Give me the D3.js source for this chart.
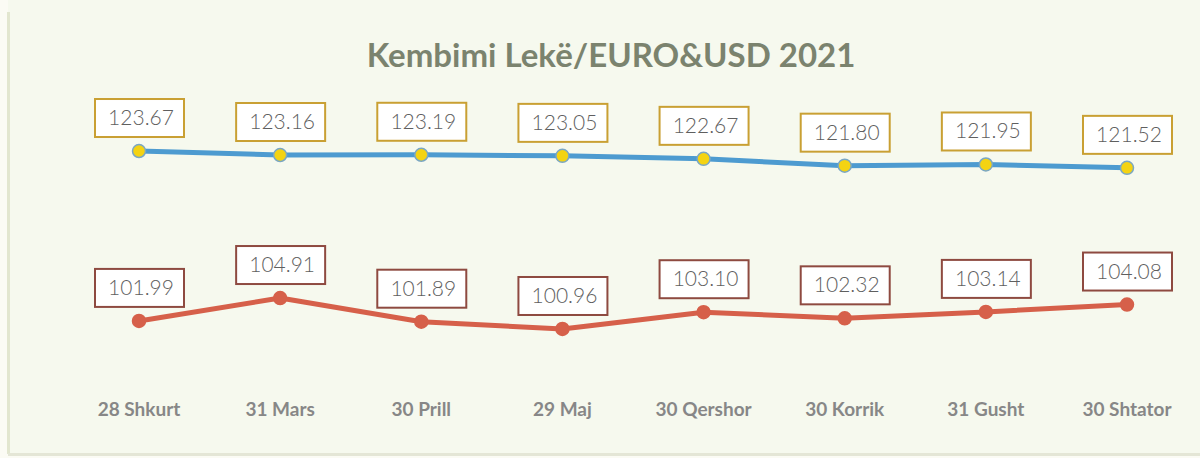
<!DOCTYPE html>
<html>
<head>
<meta charset="utf-8">
<script src="https://cdn.jsdelivr.net/npm/d3@7"></script>
<style>
  html, body { margin: 0; padding: 0; background: #fbfbf4; }
  svg { display: block; }
</style>
</head>
<body>
<div id="chart"></div>
<script>
    // tick labels
    let dates = ["28 Shkurt", "31 Mars", "30 Prill", "29 Maj", "30 Qershor", "30 Korrik", "31 Gusht", "30 Shtator"]

    // series values
    let euro = [123.67, 123.16, 123.19, 123.05, 122.67, 121.80, 121.95, 121.52]
    let usd = [101.99, 104.91, 101.89, 100.96, 103.10, 102.32, 103.14, 104.08]

    let width = 1200
    let height = 458

    let svg = d3.select("#chart")
        .append("svg")
        .attr("width", width)
        .attr("height", height)

    // card background
    svg.append("rect")
        .attr("x", 8)
        .attr("y", 0)
        .attr("width", width - 8)
        .attr("height", 454)
        .attr("fill", "#f6f9ee")
    svg.append("line")
        .attr("x1", 8.5).attr("x2", 8.5)
        .attr("y1", 12).attr("y2", 454)
        .attr("stroke", "#e2e6cf").attr("stroke-width", 3)
    svg.append("line")
        .attr("x1", 8).attr("x2", width)
        .attr("y1", 454.5).attr("y2", 454.5)
        .attr("stroke", "#e4e6d6").attr("stroke-width", 3)

    let xScale = d3.scalePoint()
        .domain(dates)
        .range([139, 1127])

    let yScale = d3.scaleLinear()
        .domain([95, 130])
        .range([375.7, 101.4])

    svg.append("text")
        .attr("x", 611)
        .attr("y", 67)
        .attr("text-anchor", "middle")
        .attr("font-family", "Lato, 'Open Sans', sans-serif")
        .attr("font-weight", "bold")
        .attr("font-size", 33)
        .attr("fill", "#7b836e")
        .text("Kembimi Lekë/EURO&USD 2021")

    // category labels
    svg.append("g")
        .selectAll("text")
        .data(dates)
        .enter()
        .append("text")
        .attr("x", d => xScale(d))
        .attr("y", 416)
        .attr("text-anchor", "middle")
        .attr("font-family", "Lato, 'Open Sans', sans-serif")
        .attr("font-weight", "bold")
        .attr("font-size", 19)
        .attr("fill", "#878787")
        .text(d => d)

    let line = d3.line()
        .x((d, i) => xScale(dates[i]))
        .y(d => yScale(d))

    function drawSeries(values, lineColor, dotFill, dotStroke, boxStroke) {
        let g = svg.append("g")

        g.append("path")
            .datum(values)
            .attr("d", line)
            .attr("fill", "none")
            .attr("stroke", lineColor)
            .attr("stroke-width", 5)
            .attr("stroke-linejoin", "round")

        g.selectAll("circle")
            .data(values)
            .enter()
            .append("circle")
            .attr("cx", (d, i) => xScale(dates[i]))
            .attr("cy", d => yScale(d))
            .attr("r", 6.5)
            .attr("fill", dotFill)
            .attr("stroke", dotStroke)
            .attr("stroke-width", 1.5)

        let labels = g.selectAll("g.label")
            .data(values)
            .enter()
            .append("g")
            .attr("class", "label")
            .attr("transform", (d, i) => `translate(${xScale(dates[i])},${yScale(d) - 14})`)

        labels.append("rect")
            .attr("x", -44)
            .attr("y", -38)
            .attr("width", 89)
            .attr("height", 38)
            .attr("fill", "#ffffff")
            .attr("stroke", boxStroke)
            .attr("stroke-width", 2)

        labels.append("text")
            .attr("x", 2)
            .attr("y", -12)
            .attr("text-anchor", "middle")
            .attr("font-family", "Lato, 'Open Sans', sans-serif")
            .attr("font-weight", 300)
            .attr("font-size", 21)
            .attr("fill", "#5f5f5f")
            .text(d => d.toFixed(2))
    }

    drawSeries(euro, "#4d9bd0", "#f4d312", "#7aa7c4", "#c9a033")
    drawSeries(usd, "#d6604a", "#d6604a", "#d6604a", "#8e4a40")
</script>
</body>
</html>
